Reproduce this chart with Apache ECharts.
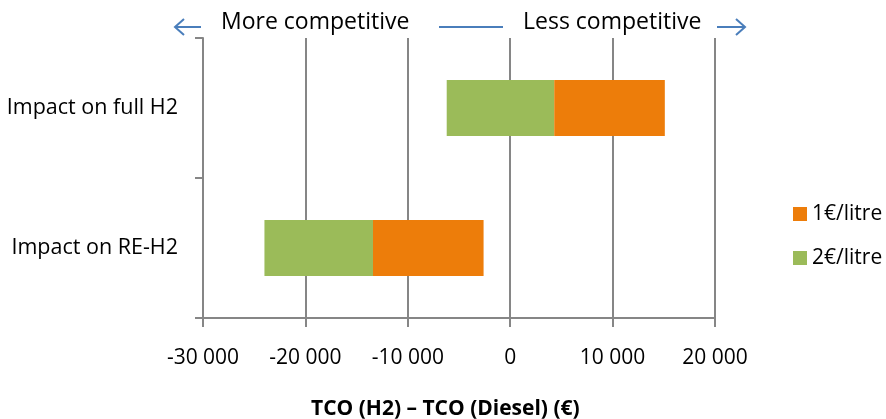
<!DOCTYPE html>
<html>
<head>
<meta charset="utf-8">
<script src="https://cdn.jsdelivr.net/npm/echarts@6/dist/echarts.min.js"></script>
<style>
  html, body { margin: 0; padding: 0; background: #fff; }
  #chart { width: 886px; height: 419px; }
</style>
</head>
<body>
<div id="chart"></div>
<script>
// categories, top to bottom
const categories = ['Impact on full H2', 'Impact on RE-H2']
const legendNames = ['1€/litre', '2€/litre']
// left edge of the green (2€/litre) bar
const greenStart = [-6200, -24000]
// where green ends and orange begins
const splitValue = [4300, -13400]
// right edge of the orange (1€/litre) bar
const orangeEnd = [15100, -2600]
// x axis
const xMin = -30000
const xMax = 20000
const xStep = 10000

const gray = '#868686'
const blue = '#4a7ebb'
const font = '"Open Sans", "DejaVu Sans", sans-serif'

// stacked widths built from the edges above
const greenWidth = greenStart.map((v, i) => splitValue[i] - v)
const orangeWidth = splitValue.map((v, i) => orangeEnd[i] - v)

const fmt = (v) => String(v).replace(/\B(?=(\d{3})+(?!\d))/g, ' ')

const option = {
  animation: false,
  backgroundColor: '#fff',
  textStyle: { fontFamily: font },
  grid: {
    left: 203,
    right: 171,
    top: 38,
    bottom: 101
  },
  legend: {
    data: legendNames,
    orient: 'vertical',
    left: 788,
    top: 198,
    itemWidth: 14,
    itemHeight: 14,
    itemGap: 22,
    icon: 'rect',
    textStyle: {
      color: '#000',
      fontSize: 21,
      lineHeight: 22,
      fontFamily: font
    }
  },
  xAxis: {
    type: 'value',
    min: xMin,
    max: xMax,
    interval: xStep,
    axisLine: { show: true, onZero: false, lineStyle: { color: gray, width: 2 } },
    axisTick: { show: true, length: 9, lineStyle: { color: gray, width: 2 } },
    splitLine: { show: true, lineStyle: { color: gray, width: 2 } },
    axisLabel: {
      color: '#000',
      fontSize: 21,
      fontFamily: font,
      margin: 30,
      formatter: fmt
    }
  },
  yAxis: {
    type: 'category',
    data: categories,
    inverse: true,
    axisLine: { show: true, onZero: false, lineStyle: { color: gray, width: 2 } },
    axisTick: { show: true, length: 8, lineStyle: { color: gray, width: 2 } },
    splitLine: { show: false },
    axisLabel: {
      color: '#000',
      fontSize: 21.5,
      fontFamily: font,
      margin: 25
    }
  },
  series: [
    {
      name: 'base',
      type: 'bar',
      stack: 'tco',
      stackStrategy: 'all',
      barWidth: 56,
      silent: true,
      itemStyle: { color: 'transparent' },
      data: greenStart
    },
    {
      name: '2€/litre',
      type: 'bar',
      stack: 'tco',
      stackStrategy: 'all',
      barWidth: 56,
      itemStyle: { color: '#9bbb59' },
      data: greenWidth
    },
    {
      name: '1€/litre',
      type: 'bar',
      stack: 'tco',
      stackStrategy: 'all',
      barWidth: 56,
      itemStyle: { color: '#ed7d0a' },
      data: orangeWidth
    }
  ],
  graphic: [
    // left arrow
    { type: 'line', shape: { x1: 175, y1: 27, x2: 201, y2: 27 }, style: { stroke: blue, lineWidth: 2 } },
    { type: 'polyline', shape: { points: [[184, 19], [175, 27], [184, 35]] }, style: { stroke: blue, lineWidth: 2, fill: null } },
    // middle dash
    { type: 'line', shape: { x1: 439, y1: 27, x2: 503, y2: 27 }, style: { stroke: blue, lineWidth: 2 } },
    // right arrow
    { type: 'line', shape: { x1: 717, y1: 27, x2: 745, y2: 27 }, style: { stroke: blue, lineWidth: 2 } },
    { type: 'polyline', shape: { points: [[736, 19], [745, 27], [736, 35]] }, style: { stroke: blue, lineWidth: 2, fill: null } },
    {
      type: 'text', left: 221, top: 11,
      style: { text: 'More competitive', fill: '#000', font: '23px ' + font }
    },
    {
      type: 'text', left: 523, top: 11,
      style: { text: 'Less competitive', fill: '#000', font: '23px ' + font }
    },
    {
      type: 'text', left: 311, top: 399,
      style: { text: 'TCO (H2) – TCO (Diesel) (€)', fill: '#000', font: 'bold 21px ' + font }
    }
  ]
}

const chart = echarts.init(document.getElementById('chart'))
chart.setOption(option)
</script>
</body>
</html>
